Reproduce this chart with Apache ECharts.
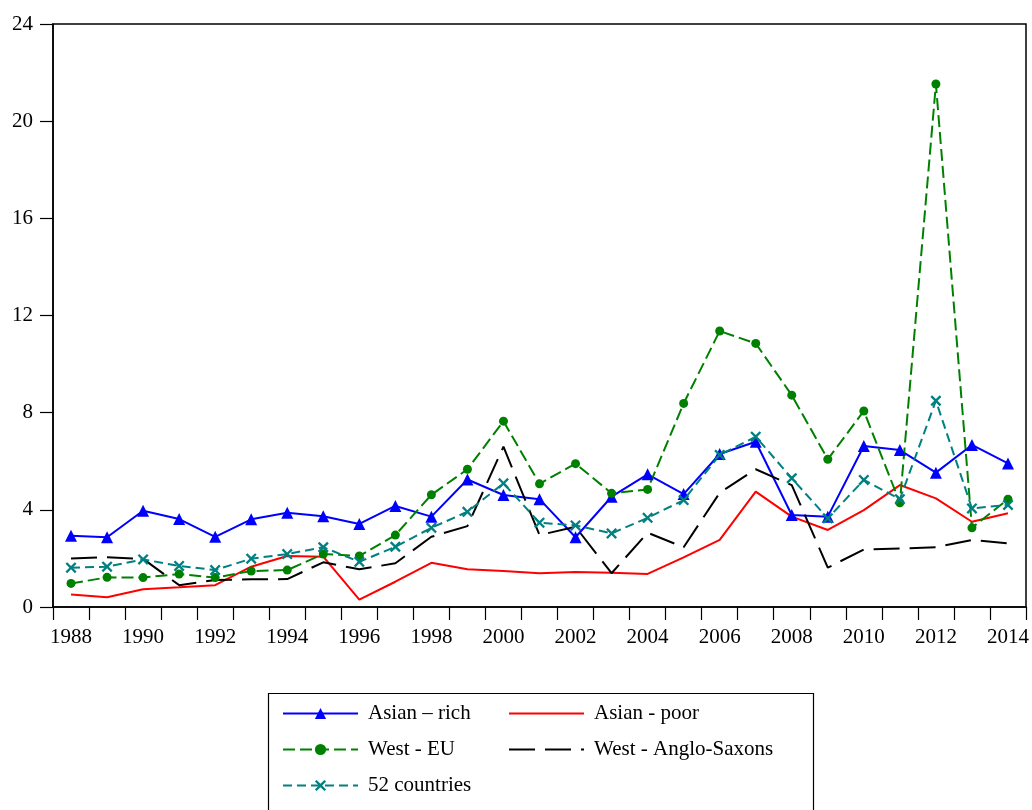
<!DOCTYPE html>
<html>
<head>
<meta charset="utf-8">
<script src="https://cdn.jsdelivr.net/npm/echarts@6/dist/echarts.min.js"></script>
<style>
html,body{margin:0;padding:0;background:#fff;}
#chart{width:1032px;height:810px;}
</style>
</head>
<body>
<div id="chart"></div>
<script>
const years = ['1988','1989','1990','1991','1992','1993','1994','1995','1996','1997','1998','1999','2000','2001','2002','2003','2004','2005','2006','2007','2008','2009','2010','2011','2012','2013','2014'];
const asianRich = [2.93, 2.87, 3.96, 3.62, 2.89, 3.61, 3.88, 3.74, 3.42, 4.16, 3.72, 5.25, 4.61, 4.44, 2.87, 4.54, 5.46, 4.65, 6.30, 6.80, 3.79, 3.72, 6.63, 6.46, 5.53, 6.67, 5.91];
const asianPoor = [0.51, 0.40, 0.73, 0.81, 0.90, 1.66, 2.10, 2.07, 0.30, 1.04, 1.82, 1.55, 1.48, 1.39, 1.44, 1.41, 1.36, 2.04, 2.76, 4.75, 3.72, 3.17, 3.99, 5.02, 4.47, 3.51, 3.86];
const westEU = [0.97, 1.22, 1.21, 1.36, 1.21, 1.48, 1.52, 2.18, 2.10, 2.96, 4.62, 5.67, 7.65, 5.07, 5.90, 4.68, 4.84, 8.38, 11.36, 10.85, 8.72, 6.08, 8.07, 4.29, 21.53, 3.26, 4.44];
const westAnglo = [2.00, 2.05, 1.98, 0.90, 1.11, 1.14, 1.15, 1.84, 1.55, 1.80, 2.89, 3.33, 6.60, 2.96, 3.30, 1.39, 3.06, 2.46, 4.70, 5.67, 5.02, 1.62, 2.37, 2.41, 2.46, 2.76, 2.62];
const countries52 = [1.62, 1.66, 1.96, 1.69, 1.52, 1.99, 2.18, 2.46, 1.86, 2.48, 3.26, 3.92, 5.09, 3.47, 3.36, 3.03, 3.67, 4.40, 6.26, 7.01, 5.30, 3.65, 5.23, 4.44, 8.49, 4.06, 4.20];
const seriesNames = ['Asian \u2013 rich', 'Asian - poor', 'West - EU', 'West - Anglo-Saxons', '52 countries'];

const FONT = 'Liberation Serif';
const xSym = 'path://M0,1.5L1.5,0L5,3.5L8.5,0L10,1.5L6.5,5L10,8.5L8.5,10L5,6.5L1.5,10L0,8.5L3.5,5Z';

const chart = echarts.init(document.getElementById('chart'), null, {renderer: 'canvas'});
const legendText = {fontFamily: FONT, fontSize: 21, color: '#000', padding: [0, 0, 0, 5]};
const noSym = {color: 'rgba(0,0,0,0)', opacity: 0, borderWidth: 0};
chart.setOption({
  animation: false,
  backgroundColor: '#fff',
  grid: {left: 53, right: 6, top: 24, bottom: 203, show: true, borderColor: '#000', borderWidth: 1.5, backgroundColor: 'transparent'},
  xAxis: {
    type: 'category', data: years, boundaryGap: true,
    axisLine: {lineStyle: {color: '#000', width: 1.5}},
    axisTick: {show: true, interval: 0, length: 13, lineStyle: {color: '#000', width: 1.2}},
    axisLabel: {interval: 1, margin: 20, fontFamily: FONT, fontSize: 21, color: '#000'},
    splitLine: {show: false}
  },
  yAxis: {
    type: 'value', min: 0, max: 24, interval: 4,
    axisLine: {show: true, lineStyle: {color: '#000', width: 1.5}},
    axisTick: {show: true, length: 13, lineStyle: {color: '#000', width: 1.2}},
    axisLabel: {margin: 20, fontFamily: FONT, fontSize: 21, color: '#000'},
    splitLine: {show: false}
  },
  legend: [
    {orient: 'vertical', left: 282, top: 703, height: 120, padding: 0, itemWidth: 75, itemHeight: 14, itemGap: 15,
     data: [seriesNames[0], seriesNames[2], seriesNames[4]], textStyle: legendText, selectedMode: false},
    {orient: 'vertical', left: 508, top: 703, height: 120, padding: 0, itemWidth: 75, itemHeight: 14, itemGap: 15,
     data: [{name: seriesNames[1], itemStyle: noSym}, {name: seriesNames[3], itemStyle: noSym}],
     textStyle: legendText, selectedMode: false}
  ],
  graphic: [{type: 'rect', left: 266, top: 691, shape: {width: 545, height: 140},
    style: {fill: 'none', stroke: '#000', lineWidth: 1.2}, silent: true}],
  series: [
    {name: seriesNames[0], type: 'line', data: asianRich, symbol: 'triangle', symbolSize: 12,
     lineStyle: {color: '#0000ff', width: 2}, itemStyle: {color: '#0000ff'}},
    {name: seriesNames[1], type: 'line', data: asianPoor, symbol: 'none',
     lineStyle: {color: '#ff0000', width: 2}, itemStyle: {color: '#ff0000'}},
    {name: seriesNames[2], type: 'line', data: westEU, symbol: 'circle', symbolSize: 9,
     lineStyle: {color: '#008000', width: 2, type: [12, 5]}, itemStyle: {color: '#008000'}},
    {name: seriesNames[3], type: 'line', data: westAnglo, symbol: 'none',
     lineStyle: {color: '#000000', width: 2, type: [26, 10]}, itemStyle: {color: '#000000'}},
    {name: seriesNames[4], type: 'line', data: countries52, symbol: xSym, symbolSize: 11,
     lineStyle: {color: '#008080', width: 2, type: [9, 5]}, itemStyle: {color: '#008080'}}
  ]
});
</script>
</body>
</html>
